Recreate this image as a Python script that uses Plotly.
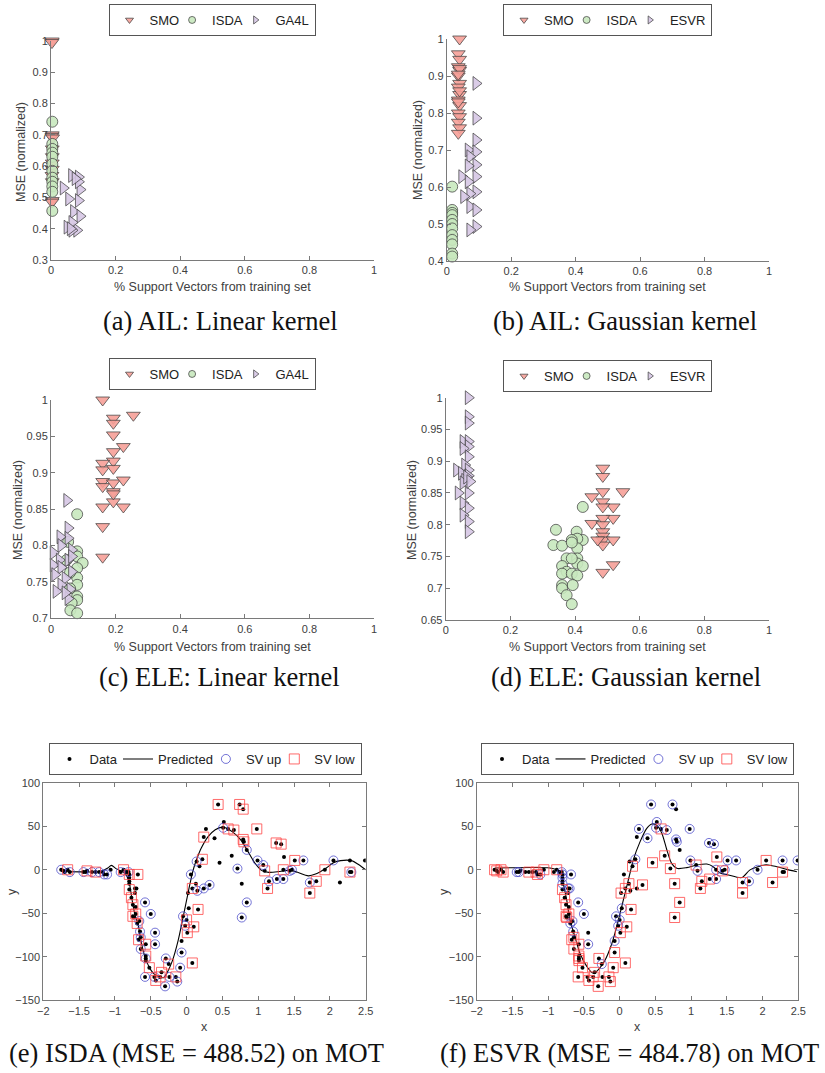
import plotly.graph_objects as go

# ---------------- Panel (a) AIL linear ----------------
a_smo_x = [0.004, 0.003, 0.004, 0.003, 0.005, 0.004, 0.004, 0.004, 0.004, 0.003, 0.004, 0.004, 0.003]
a_smo_y = [1.0, 0.995, 0.70, 0.695, 0.69, 0.655, 0.63, 0.61, 0.59, 0.57, 0.55, 0.49, 0.485]
a_isda_x = [0.004, 0.004, 0.004, 0.004, 0.004, 0.004, 0.004, 0.004, 0.004, 0.004, 0.004, 0.004]
a_isda_y = [0.742, 0.671, 0.655, 0.643, 0.63, 0.607, 0.585, 0.563, 0.55, 0.535, 0.518, 0.457]
a_ga4l_x = [0.038, 0.064, 0.085, 0.09, 0.055, 0.085, 0.07, 0.09, 0.05, 0.08, 0.065, 0.085, 0.065, 0.075, 0.06]
a_ga4l_y = [0.53, 0.57, 0.565, 0.525, 0.495, 0.49, 0.455, 0.44, 0.405, 0.395, 0.395, 0.55, 0.42, 0.56, 0.40]

# ---------------- Panel (b) AIL gaussian ----------------
b_smo_x = [0.04, 0.036, 0.04, 0.036, 0.04, 0.036, 0.04, 0.036, 0.04, 0.036,
           0.04, 0.036, 0.04, 0.036, 0.04, 0.036, 0.04, 0.036, 0.04, 0.036]
b_smo_y = [1.0, 0.96, 0.945, 0.925, 0.915, 0.90, 0.88, 0.87, 0.85, 0.835,
           0.82, 0.80, 0.79, 0.775, 0.76, 0.745, 0.92, 0.905, 0.86, 0.83]
b_isda_x = [0.017, 0.017, 0.017, 0.017, 0.017, 0.017, 0.017, 0.017, 0.017, 0.017, 0.017, 0.017]
b_isda_y = [0.601, 0.538, 0.53, 0.524, 0.511, 0.50, 0.488, 0.47, 0.457, 0.445, 0.42, 0.412]
b_esvr_x = [0.091, 0.091, 0.091, 0.067, 0.091, 0.072, 0.091, 0.067, 0.091, 0.047,
            0.067, 0.091, 0.072, 0.053, 0.072, 0.091, 0.091, 0.072]
b_esvr_y = [0.880, 0.786, 0.727, 0.70, 0.695, 0.682, 0.66, 0.657, 0.628, 0.628,
            0.614, 0.587, 0.582, 0.574, 0.547, 0.538, 0.493, 0.484]

# ---------------- Panel (c) ELE linear ----------------
c_smo_x = [0.16, 0.193, 0.193, 0.255, 0.193, 0.224, 0.193, 0.193, 0.16, 0.16, 0.193,
           0.16, 0.16, 0.193, 0.224, 0.193, 0.193, 0.16, 0.224, 0.16, 0.16, 0.193]
c_smo_y = [1.0, 0.975, 0.968, 0.979, 0.952, 0.936, 0.929, 0.916, 0.913, 0.904, 0.906,
           0.888, 0.881, 0.886, 0.89, 0.874, 0.860, 0.853, 0.853, 0.826, 0.784, 0.871]
c_isda_x = [0.081, 0.053, 0.081, 0.081, 0.098, 0.081, 0.081, 0.081, 0.059, 0.081,
            0.081, 0.064, 0.06, 0.081, 0.059, 0.048]
c_isda_y = [0.843, 0.805, 0.792, 0.785, 0.776, 0.769, 0.756, 0.746, 0.741, 0.730,
            0.725, 0.721, 0.711, 0.707, 0.763, 0.78]
c_ga4l_x = [0.049, 0.053, 0.053, 0.028, 0.031, 0.064, 0.007, 0.026, 0.053, 0.007,
            0.031, 0.064, 0.012, 0.044, 0.031, 0.016, 0.059, 0.053, 0.044, 0.064]
c_ga4l_y = [0.862, 0.824, 0.81, 0.812, 0.80, 0.794, 0.79, 0.78, 0.78, 0.773,
            0.77, 0.764, 0.76, 0.755, 0.746, 0.737, 0.74, 0.727, 0.735, 0.785]

# ---------------- Panel (d) ELE gaussian ----------------
d_smo_x = [0.486, 0.486, 0.452, 0.486, 0.548, 0.486, 0.518, 0.486, 0.518, 0.486,
           0.452, 0.486, 0.486, 0.486, 0.486, 0.518, 0.486, 0.518, 0.486, 0.47]
d_smo_y = [0.889, 0.876, 0.844, 0.852, 0.852, 0.836, 0.828, 0.828, 0.81, 0.81,
           0.802, 0.80, 0.789, 0.782, 0.776, 0.776, 0.768, 0.737, 0.725, 0.776]
d_isda_x = [0.424, 0.341, 0.405, 0.424, 0.407, 0.39, 0.333, 0.36, 0.407, 0.39, 0.374, 0.407,
            0.407, 0.424, 0.36, 0.374, 0.36, 0.39, 0.407, 0.36, 0.393, 0.36, 0.374, 0.39, 0.39]
d_isda_y = [0.828, 0.792, 0.789, 0.776, 0.778, 0.776, 0.768, 0.767, 0.763, 0.772, 0.747, 0.747,
            0.739, 0.735, 0.735, 0.726, 0.723, 0.723, 0.72, 0.705, 0.705, 0.70, 0.689, 0.675, 0.747]
d_esvr_x = [0.07, 0.07, 0.07, 0.054, 0.07, 0.07, 0.054, 0.07, 0.059, 0.034, 0.07, 0.049,
            0.07, 0.059, 0.054, 0.039, 0.07, 0.054, 0.07, 0.054, 0.07, 0.07, 0.065, 0.075]
d_esvr_y = [1.0, 0.970, 0.96, 0.931, 0.931, 0.923, 0.92, 0.907, 0.894, 0.886, 0.886, 0.881,
            0.877, 0.87, 0.866, 0.85, 0.85, 0.834, 0.826, 0.815, 0.805, 0.789, 0.875, 0.868]

# ---------------- MOT data (panels e, f) ----------------
mot_x = [-1.75, -1.72, -1.70, -1.66, -1.63, -1.44, -1.41, -1.39, -1.32, -1.27,
         -1.22, -1.17, -1.15, -1.11, -1.06, -0.92, -0.88, -0.84, -0.81, -0.80,
         -0.80, -0.80, -0.80, -0.80, -0.77, -0.75, -0.75, -0.74, -0.72, -0.70,
         -0.71, -0.71, -0.72, -0.68, -0.69, -0.67, -0.66, -0.65, -0.64, -0.64,
         -0.58, -0.57, -0.57, -0.57, -0.57, -0.58, -0.52, -0.50, -0.44, -0.44,
         -0.45, -0.43, -0.37, -0.35, -0.30, -0.29, -0.25, -0.24, -0.15, -0.13,
         -0.09, -0.07, -0.07, -0.05, -0.02, 0.00, 0.01, 0.03, 0.02, 0.06,
         0.08, 0.08, 0.10, 0.13, 0.16, 0.15, 0.14, 0.18, 0.22, 0.24,
         0.24, 0.27, 0.32, 0.39, 0.44, 0.46, 0.52, 0.51, 0.58, 0.63,
         0.66, 0.71, 0.74, 0.77, 0.77, 0.79, 0.79, 0.80, 0.84, 0.84,
         0.98, 0.99, 1.07, 1.09, 1.13, 1.15, 1.25, 1.26, 1.32, 1.35,
         1.35, 1.36, 1.44, 1.47, 1.51, 1.63, 1.72, 1.72, 1.81, 1.93,
         2.05, 2.14, 2.28, 2.28, 2.30, 2.49]
mot_y = [0.0, -1.3, -2.7, 0.0, -2.7, -2.7, -2.7, -1.3, -2.7, -2.7,
         -2.7, -2.7, -5.4, -5.4, 0.0, -2.7, 0.0, -2.7, -2.7, -5.4,
         -9.3, -13.3, -16.0, -22.8, -32.1, -40.2, -53.5, -54.9, -21.5, -21.5,
         -50.8, -42.9, -26.8, -5.4, -61.7, -80.4, -59.0, -71.0, -91.1, -77.7,
         -37.5, -85.6, -99.1, -101.9, -104.4, -123.1, -112.5, -50.8, -72.3, -85.6,
         -123.1, -127.2, -123.1, -117.9, -134.0, -101.9, -108.4, -123.1, -123.1, -128.5,
         -112.5, -95.1, -81.8, -53.5, -64.4, -57.6, -72.3, -44.3, -26.8, -5.4,
         -107.1, -21.5, -65.6, -16.0, -45.6, -24.2, 9.5, 4.0, 12.0, -21.5,
         37.5, 46.9, -17.4, 36.2, 75.0, 8.1, 54.9, 48.2, 46.9, 16.0,
         45.6, 1.3, 75.0, -16.0, -54.9, 69.6, 34.8, 32.1, -37.5, 22.8,
         46.9, 10.7, 5.4, -1.3, -21.5, -13.3, 30.8, -10.7, 29.4, 0.0,
         -10.7, 14.7, -1.3, 0.0, 10.7, 10.7, -26.8, -14.7, -13.3, 0.0,
         10.7, -14.7, 10.7, -2.7, -2.7, 10.7]
# support-vector role of each point: u = SV up, l = SV low, - = none
sv_isda = ['u', '-', '-', 'l', 'u', 'u', '-', 'l', 'u', 'l',
           'u', '-', 'u', 'u', '-', 'u', 'l', '-', 'u', 'l',
           '-', '-', '-', 'l', 'l', 'l', 'l', '-', '-', '-',
           'l', '-', '-', 'l', 'l', 'l', 'u', 'u', 'u', 'u',
           'u', 'l', 'l', 'u', '-', 'u', 'l', 'u', 'u', 'u',
           'u', 'l', 'l', 'l', 'u', 'u', 'l', 'u', 'l', 'u',
           'u', 'u', '-', 'u', 'u', 'l', 'l', '-', '-', 'u',
           'l', 'l', 'l', '-', 'l', 'u', 'u', '-', 'l', 'u',
           'l', '-', 'u', '-', 'l', '-', '-', 'u', 'l', '-',
           'l', 'u', 'l', '-', 'u', 'l', 'l', 'l', 'u', 'u',
           'l', 'u', 'u', 'l', 'l', 'u', 'l', 'u', 'l', 'l',
           'u', '-', 'u', 'u', 'l', 'u', 'l', 'u', 'l', 'l',
           'u', '-', '-', 'l', 'u', '-']
sv_esvr = ['l', 'l', '-', 'l', 'l', 'u', 'u', '-', '-', 'l',
           '-', 'l', 'l', 'u', 'l', '-', 'l', '-', 'u', 'u',
           'u', '-', 'u', 'l', 'l', 'l', 'l', 'l', 'u', 'u',
           'l', '-', '-', 'u', 'u', 'l', 'u', 'u', 'l', 'l',
           'u', 'l', 'l', 'l', 'l', 'l', 'l', 'u', '-', 'u',
           '-', 'l', 'l', 'l', 'l', 'l', 'u', '-', 'l', 'l',
           'l', 'l', 'u', 'u', 'u', 'u', 'l', 'u', 'l', '-',
           'l', 'l', 'l', 'l', 'l', '-', '-', 'l', 'u', '-',
           '-', 'u', 'l', 'u', 'u', 'l', 'u', 'u', 'l', 'l',
           'u', 'l', 'u', 'l', 'l', '-', 'u', 'u', 'l', '-',
           'u', 'u', 'l', 'u', 'l', 'l', 'u', 'l', 'u', 'u',
           'u', 'l', 'l', 'u', 'u', 'u', 'l', 'l', 'u', 'u',
           'l', 'l', 'u', 'l', '-', 'u']

isda_pred_x = [-1.75, -1.4, -1.2, -1.1, -1.05, -0.98, -0.9, -0.85, -0.8, -0.76, -0.72, -0.68,
               -0.64, -0.6, -0.55, -0.5, -0.45, -0.38, -0.32, -0.27, -0.2, -0.12, -0.05, 0.0,
               0.05, 0.1, 0.15, 0.2, 0.3, 0.4, 0.5, 0.55, 0.65, 0.75, 0.85, 0.95, 1.05, 1.15,
               1.3, 1.45, 1.55, 1.7, 1.8, 1.95, 2.05, 2.15, 2.3, 2.4, 2.5]
isda_pred_y = [-2, -2.5, -2, 2, 5, 1, -2, -5, -15, -35, -52, -62,
               -80, -95, -107, -115, -120, -123, -124, -118, -105, -82, -55, -35,
               -15, 2, 14, 24, 38, 46, 49, 48, 43, 35, 22, 8, -1, -3,
               -2, -0.5, -3, -7, -5, 2, 8, 10.5, 10.5, 6, 0]
esvr_pred_x = [-1.744, -0.975, -0.88, -0.81, -0.78, -0.74, -0.695, -0.625, -0.555, -0.46,
               -0.37, -0.30, -0.205, -0.11, -0.04, 0.03, 0.10, 0.145, 0.19, 0.285,
               0.38, 0.45, 0.52, 0.59, 0.66, 0.73, 0.80, 0.94, 1.08, 1.22,
               1.31, 1.40, 1.52, 1.71, 1.82, 1.94, 2.05, 2.20, 2.34, 2.48]
esvr_pred_y = [2, 2, 0, -4, -19, -35, -58, -77, -96, -111,
               -119, -115, -104, -85, -65, -42, -19, -4, 11, 32,
               47.5, 52.5, 51, 42, 23, 7, 1.6, 2.4, 5.4, 6.6,
               3.5, -3.5, -6, -9, -0.4, 3.5, 5.8, 3.5, 0.4, -2.3]

W, H = 825, 1073
SANS = "Liberation Sans, Arial, sans-serif"
SERIF = "Liberation Serif, Times New Roman, serif"
AX_COL = "#7a7a7a"
TXT_COL = "#404040"
LEG_FONT = 13

SMO_FILL = "rgba(246,160,152,0.9)"
ISDA_FILL = "rgba(200,232,190,0.9)"
ESVR_FILL = "rgba(214,198,228,0.9)"
EDGE = "rgba(60,60,60,0.9)"

# approximate legend label widths (px at 13px Arial) used to pack legend entries tightly
label_w = {"SMO": 29.6, "ISDA": 30.3, "GA4L": 33.2, "ESVR": 35.4,
           "Data": 27.5, "Predicted": 54.9, "SV up": 35.4, "SV low": 40.5}
LAST_TRIM = 0


def px2x(px):
    return px / W


def py2y(py):
    return 1 - py / H


fig = go.Figure()

# panel boxes in pixels: (left, right, top, bottom)
boxes = {
    1: (51, 374, 41, 260),
    2: (446.7, 769, 39, 261),
    3: (51, 374, 400, 618.3),
    4: (445.7, 769, 397.7, 620),
    5: (43.3, 365.7, 782.7, 1000.3),
    6: (476.7, 798.3, 782.7, 1000.3),
}


def axname(i, k):
    return k if i == 1 else f"{k}{i}"


def add_scatter_panel(i, smo, isda, third, third_name, legend_id):
    xa = "x" if i == 1 else f"x{i}"
    ya = "y" if i == 1 else f"y{i}"
    specs = [
        ("SMO", smo, "triangle-down", SMO_FILL, 12),
        ("ISDA", isda, "circle", ISDA_FILL, 11),
        (third_name, third, "triangle-right", ESVR_FILL, 12),
    ]
    for name, (xs, ys), sym, col, sz in specs:
        fig.add_trace(go.Scatter(
            x=xs, y=ys, mode="markers", xaxis=xa, yaxis=ya, showlegend=False,
            cliponaxis=False,
            marker=dict(symbol=sym, size=sz, color=col, line=dict(color=EDGE, width=0.8)),
        ))
    for k, (name, _, sym, col, sz) in enumerate(specs):
        lw = label_w[name] - LAST_TRIM if k == len(specs) - 1 else label_w[name] - 12
        fig.add_trace(go.Scatter(
            x=[None], y=[None], mode="markers", xaxis=xa, yaxis=ya, name=name,
            legend=legend_id, legendwidth=lw,
            marker=dict(symbol=sym, size=7, color=col, line=dict(color=EDGE, width=0.8)),
        ))


add_scatter_panel(1, (a_smo_x, a_smo_y), (a_isda_x, a_isda_y), (a_ga4l_x, a_ga4l_y), "GA4L", "legend")
add_scatter_panel(2, (b_smo_x, b_smo_y), (b_isda_x, b_isda_y), (b_esvr_x, b_esvr_y), "ESVR", "legend2")
add_scatter_panel(3, (c_smo_x, c_smo_y), (c_isda_x, c_isda_y), (c_ga4l_x, c_ga4l_y), "GA4L", "legend3")
add_scatter_panel(4, (d_smo_x, d_smo_y), (d_isda_x, d_isda_y), (d_esvr_x, d_esvr_y), "ESVR", "legend4")


def add_mot_panel(i, sv, px, py, legend_id):
    xa, ya = f"x{i}", f"y{i}"
    fig.add_trace(go.Scatter(x=mot_x, y=mot_y, mode="markers", name="Data", xaxis=xa, yaxis=ya,
                             legend=legend_id, legendwidth=label_w["Data"] - 4,
                             marker=dict(color="black", size=4)))
    fig.add_trace(go.Scatter(x=px, y=py, mode="lines", name="Predicted", xaxis=xa, yaxis=ya,
                             legend=legend_id, legendwidth=label_w["Predicted"] - 12,
                             line=dict(color="black", width=1.1, shape="spline", smoothing=0.8)))
    ux = [x for x, s in zip(mot_x, sv) if s == 'u']
    uy = [y for y, s in zip(mot_y, sv) if s == 'u']
    lx = [x for x, s in zip(mot_x, sv) if s == 'l']
    ly = [y for y, s in zip(mot_y, sv) if s == 'l']
    fig.add_trace(go.Scatter(x=ux, y=uy, mode="markers", name="SV up", xaxis=xa, yaxis=ya,
                             legend=legend_id, legendwidth=label_w["SV up"] - 12,
                             marker=dict(symbol="circle-open", size=9, color="rgba(70,70,200,0.75)",
                                         line=dict(width=1))))
    fig.add_trace(go.Scatter(x=lx, y=ly, mode="markers", name="SV low", xaxis=xa, yaxis=ya,
                             legend=legend_id, legendwidth=label_w["SV low"] - LAST_TRIM,
                             marker=dict(symbol="square-open", size=10, color="rgba(255,70,70,0.8)",
                                         line=dict(width=1))))


add_mot_panel(5, sv_isda, isda_pred_x, isda_pred_y, "legend5")
add_mot_panel(6, sv_esvr, esvr_pred_x, esvr_pred_y, "legend6")

layout = dict(
    width=W, height=H, autosize=False,
    margin=dict(l=0, r=0, t=0, b=0, autoexpand=False),
    paper_bgcolor="white", plot_bgcolor="white",
    font=dict(family=SANS, size=11, color=TXT_COL),
)

yranges = {1: [0.3, 1], 2: [0.4, 1], 3: [0.7, 1], 4: [0.65, 1], 5: [-150, 100], 6: [-150, 100]}
ydticks = {1: 0.1, 2: 0.1, 3: 0.05, 4: 0.05, 5: 50, 6: 50}

for i, (l, r, t, b) in boxes.items():
    xk, yk = axname(i, "xaxis"), axname(i, "yaxis")
    xa_ref = "x" if i == 1 else f"x{i}"
    ya_ref = "y" if i == 1 else f"y{i}"
    bottom = i >= 5
    common = dict(showgrid=False, zeroline=False, showline=True, linecolor=AX_COL, linewidth=1,
                  ticks="inside", ticklen=4, tickcolor=AX_COL, tickwidth=1, automargin=False,
                  tickfont=dict(family=SANS, size=11, color=TXT_COL),
                  mirror="ticks" if bottom else False)
    if bottom:
        layout[xk] = dict(domain=[px2x(l), px2x(r)], anchor=ya_ref, range=[-2, 2.5],
                          tick0=-2, dtick=0.5, **common)
    else:
        layout[xk] = dict(domain=[px2x(l), px2x(r)], anchor=ya_ref, range=[0, 1],
                          tick0=0, dtick=0.2, **common)
    layout[yk] = dict(domain=[py2y(b), py2y(t)], anchor=xa_ref, range=yranges[i],
                      tick0=yranges[i][0], dtick=ydticks[i], **common)

legend_common = dict(orientation="h", xanchor="center", yanchor="top", bgcolor="white",
                     bordercolor="#555", borderwidth=1,
                     font=dict(family=SANS, size=LEG_FONT, color="#222"),
                     itemwidth=30, tracegroupgap=0)
legend_pos = {
    "legend": (212, 4), "legend2": (607.5, 4), "legend3": (212, 358),
    "legend4": (607.5, 360), "legend5": (205, 743), "legend6": (637.5, 743),
}
for k, (cx, ty) in legend_pos.items():
    layout[k] = dict(x=px2x(cx), y=py2y(ty), **legend_common)

ann = []


def text(x, y, s, size, family=SANS, angle=0, color=TXT_COL):
    ann.append(dict(x=px2x(x), y=py2y(y), xref="paper", yref="paper", text=s, showarrow=False,
                    xanchor="center", yanchor="middle", textangle=angle,
                    font=dict(family=family, size=size, color=color)))


xlabel = "% Support Vectors from training set"
text(212, 287, xlabel, 12.5)
text(607, 287, xlabel, 12.5)
text(212, 647, xlabel, 12.5)
text(607, 647, xlabel, 12.5)
text(21, 152, "MSE (normalized)", 12.5, angle=-90)
text(418, 150, "MSE (normalized)", 12.5, angle=-90)
text(18, 510, "MSE (normalized)", 12.5, angle=-90)
text(412, 510, "MSE (normalized)", 12.5, angle=-90)
text(12, 892, "y", 12.5, angle=-90)
text(444, 892, "y", 12.5, angle=-90)
text(204, 1027, "x", 12.5)
text(637, 1027, "x", 12.5)

cap_col = "#111"
CAP = 26.5
text(220, 321, "(a) AIL: Linear kernel", CAP, SERIF, color=cap_col)
text(625, 321, "(b) AIL: Gaussian kernel", CAP, SERIF, color=cap_col)
text(219, 677, "(c) ELE: Linear kernel", CAP, SERIF, color=cap_col)
text(626, 677, "(d) ELE: Gaussian kernel", CAP, SERIF, color=cap_col)
text(196, 1053, "(e) ISDA (MSE = 488.52) on MOT", CAP, SERIF, color=cap_col)
text(629, 1053, "(f) ESVR (MSE = 484.78) on MOT", CAP, SERIF, color=cap_col)

layout["annotations"] = ann
fig.update_layout(**layout)
fig.write_html("out.html", config={"displayModeBar": False},
               post_script="document.body.style.margin='0px';")
